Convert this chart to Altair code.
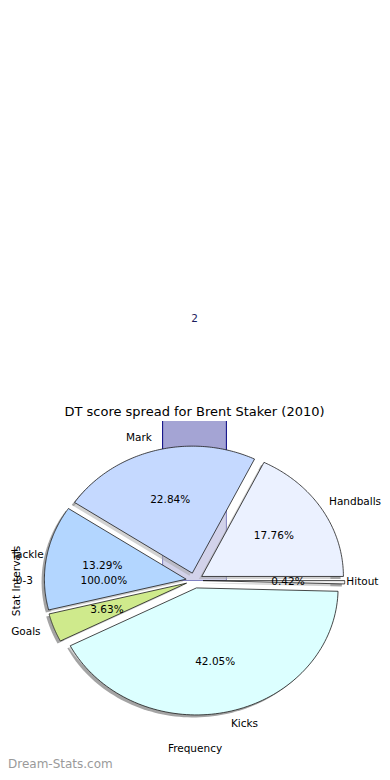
import altair as alt
import pandas as pd

# ---------------- data ----------------
stats = ["Handballs", "Mark", "Tackle", "Goals", "Kicks", "Hitout"]
shares = [17.76, 22.84, 13.29, 3.63, 42.05, 0.42]
stat_colors = ["#ebf1ff", "#c5d9ff", "#b3d6ff", "#cfea8c", "#dcffff", "#f4f4f4"]

intervals = ["0-3"]
interval_counts = [2]
interval_shares = [100.0]

TITLE = "DT score spread for Brent Staker (2010)"
X_TITLE = "Frequency"
Y_TITLE = "Stat Intervals"
WATERMARK = "Dream-Stats.com"

# ---------------- style ----------------
W, H = 309, 319
PAD_L, PAD_T, PAD_R, PAD_B = 32, 413, 33, 32
RX, RY = 141.7, 127.0          # pixels per data unit
XM = W / 2 / RX
YM = H / 2 / RY
N = 90                          # points per wedge outline
FONT = "DejaVu Sans"
FS = 10.5
CHAR_W = 0.55 * FS              # rough glyph width for edge clamping
BAR_W = 0.45
STAT_EXPLODE = 0.06
INT_EXPLODE = 0.04
SH_DX, SH_DY = -0.02, -0.02
LEFT_EDGE = -(W / 2 + PAD_L - 1) / RX
RIGHT_EDGE = (W / 2 + PAD_R - 1) / RX

xs = alt.Scale(domain=[-XM, XM], nice=False, zero=False)
ys = alt.Scale(domain=[-YM, YM], nice=False, zero=False)

AX_X = alt.Axis(title=X_TITLE, labels=False, ticks=False, domain=False, grid=False,
                titleFont=FONT, titleFontSize=FS, titleFontWeight="normal",
                titleColor="black", titlePadding=3)
AX_Y = alt.Axis(title=Y_TITLE, labels=False, ticks=False, domain=False, grid=False,
                titleFont=FONT, titleFontSize=FS, titleFontWeight="normal",
                titleColor="black", titlePadding=19)

stat_df = pd.DataFrame({"name": stats, "v": shares, "k": list(range(len(stats)))})
int_df = pd.DataFrame({"name": intervals, "v": interval_shares, "k": list(range(len(intervals)))})
bar_df = pd.DataFrame({"interval": intervals, "count": interval_counts,
                       "pos": list(range(len(intervals)))})


def wedges(df, explode):
    return (
        alt.Chart(df)
        .transform_window(cum="sum(v)", sort=[alt.SortField("k")], frame=[None, 0])
        .transform_joinaggregate(tot="sum(v)")
        .transform_calculate(
            a0="2*PI*(datum.cum-datum.v)/datum.tot",
            a1="2*PI*datum.cum/datum.tot",
        )
        .transform_calculate(mid="(datum.a0+datum.a1)/2")
        .transform_calculate(
            ex=f"{explode}*cos(datum.mid)",
            ey=f"{explode}*sin(datum.mid)",
            pct="format(100*datum.v/datum.tot, '.2f') + '%'",
        )
    )


def polygon(base, dx=0.0, dy=0.0):
    return (
        base.transform_calculate(seq=f"sequence(0,{N + 3})")
        .transform_flatten(["seq"], as_=["idx"])
        .transform_calculate(
            apex=f"datum.idx==0 || datum.idx=={N + 2}",
            ang=f"datum.a0+(datum.a1-datum.a0)*(datum.idx-1)/{N}",
        )
        .transform_calculate(
            px=f"{dx} + datum.ex + (datum.apex ? 0 : cos(datum.ang))",
            py=f"{dy} + datum.ey + (datum.apex ? 0 : sin(datum.ang))",
        )
    )


XN = alt.X("px:Q", scale=xs, axis=AX_X)
YN = alt.Y("py:Q", scale=ys, axis=AX_Y)
XL = alt.X("lx:Q", scale=xs, axis=AX_X)
YL = alt.Y("ly:Q", scale=ys, axis=AX_Y)

# bar (clipped at the top of the axes)
bar = (
    alt.Chart(bar_df)
    .transform_calculate(x0=f"datum.pos - {BAR_W / 2}", x1=f"datum.pos + {BAR_W / 2}")
    .mark_rect(clip=True, fill="#a4a4d4", stroke="#000080", strokeWidth=1)
    .encode(
        x=alt.X("x0:Q", scale=xs, axis=AX_X),
        x2="x1:Q",
        y=alt.Y("count:Q", scale=ys, axis=AX_Y),
        y2=alt.datum(0),
    )
)

bar_label = (
    alt.Chart(bar_df)
    .mark_text(font=FONT, fontSize=FS, color="#1c1c5c", baseline="alphabetic", dy=-5)
    .encode(x=alt.X("pos:Q", scale=xs, axis=AX_X),
            y=alt.Y("count:Q", scale=ys, axis=AX_Y),
            text="count:Q")
)

stat_base = wedges(stat_df, STAT_EXPLODE)
int_base = wedges(int_df, INT_EXPLODE)

shadow = (
    polygon(stat_base, SH_DX, SH_DY)
    .mark_line(strokeWidth=0, interpolate="linear")
    .encode(x=XN, y=YN, order="idx:Q", detail="name:N",
            fill=alt.value("#4a4a4a"), fillOpacity=alt.value(0.5))
)

int_pie = (
    polygon(int_base)
    .mark_line(strokeWidth=0, interpolate="linear")
    .encode(x=XN, y=YN, order="idx:Q", detail="name:N",
            fill=alt.value("white"), fillOpacity=alt.value(0.5))
)

stat_pie = (
    polygon(stat_base)
    .mark_line(stroke="#1a1a1a", strokeWidth=0.8, strokeJoin="round", interpolate="linear")
    .encode(x=XN, y=YN, order="idx:Q", detail="name:N",
            fill=alt.Fill("name:N", scale=alt.Scale(domain=stats, range=stat_colors),
                          legend=None))
)


def pct_layer(base):
    return (base.transform_calculate(lx="datum.ex + 0.6*cos(datum.mid)",
                                     ly="datum.ey + 0.6*sin(datum.mid)")
            .mark_text(font=FONT, fontSize=FS, color="black", baseline="middle")
            .encode(x=XL, y=YL, text="pct:N"))


def name_layers(base):
    b = base.transform_calculate(lx0="datum.ex + 1.1*cos(datum.mid)",
                                 ly="datum.ey + 1.1*sin(datum.mid)")
    # labels are nudged inward only if they would run off the page
    right = (b.transform_filter("cos(datum.mid) >= 0")
             .transform_calculate(
                 lx=f"min(datum.lx0, {RIGHT_EDGE} - length(datum.name)*{CHAR_W / RX})")
             .mark_text(font=FONT, fontSize=FS, color="black", align="left", baseline="middle")
             .encode(x=XL, y=YL, text="name:N"))
    left = (b.transform_filter("cos(datum.mid) < 0")
            .transform_calculate(
                lx=f"max(datum.lx0, {LEFT_EDGE} + length(datum.name)*{CHAR_W / RX})")
            .mark_text(font=FONT, fontSize=FS, color="black", align="right", baseline="middle")
            .encode(x=XL, y=YL, text="name:N"))
    return [right, left]


title = (
    alt.Chart(pd.DataFrame({"t": [TITLE]}))
    .mark_text(font=FONT, fontSize=13, color="black", align="center", baseline="alphabetic")
    .encode(x=alt.value(W / 2), y=alt.value(-5), text="t:N")
)

watermark = (
    alt.Chart(pd.DataFrame({"t": [WATERMARK]}))
    .mark_text(font=FONT, fontSize=12, color="#9a9a9a", align="left", baseline="middle")
    .encode(x=alt.value(-PAD_L), y=alt.value(H + PAD_B - 8), text="t:N")
)

chart = (
    alt.layer(
        bar, bar_label, shadow, int_pie, stat_pie,
        pct_layer(int_base), pct_layer(stat_base),
        *name_layers(int_base), *name_layers(stat_base),
        title, watermark,
    )
    .properties(
        width=W, height=H,
        autosize=alt.AutoSizeParams(type="none"),
        padding={"left": PAD_L, "top": PAD_T, "right": PAD_R, "bottom": PAD_B},
    )
    .configure_view(stroke=None)
)

chart.save("out.html", embed_options={"renderer": "svg", "actions": False})
